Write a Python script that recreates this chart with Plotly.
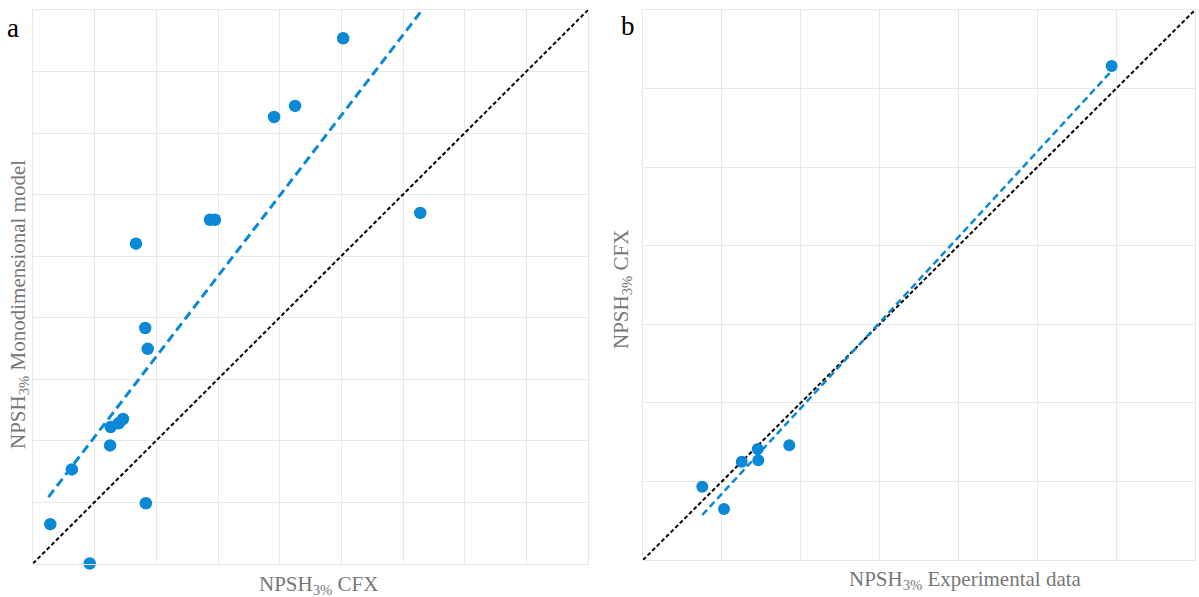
import plotly.graph_objects as go

# Panel a: CFX vs monodimensional model
a_cfx = [0.28, 0.63, 0.92, 1.25, 1.26, 1.39, 1.46, 1.67, 1.82, 1.83, 1.86, 2.87, 2.95, 3.91, 4.25, 5.03, 6.28]
a_mono = [0.64, 1.53, 0.00, 1.92, 2.22, 2.28, 2.35, 5.20, 3.83, 0.98, 3.49, 5.59, 5.59, 7.26, 7.44, 8.54, 5.70]
a_trend_x = [0.25, 6.28]
a_trend_y = [1.08, 8.96]
a_diag = [0, 9]

# Panel b: experimental vs CFX
b_exp = [0.752, 1.027, 1.252, 1.455, 1.462, 1.855, 5.943]
b_cfx = [0.933, 0.649, 1.251, 1.413, 1.269, 1.460, 6.287]
b_trend_x = [0.752, 5.92]
b_trend_y = [0.573, 6.20]
b_diag = [0, 7]

W, H = 1199, 597
BLUE = "#0b88d6"
GRID = "#e8e8e8"
TXT = "#777777"
SERIF = "Liberation Serif, Times New Roman, serif"
TS = 21

def px_x(p):
    return p / W

def px_y(p):
    return 1 - p / H

fig = go.Figure()

# panel a
fig.add_trace(go.Scatter(x=a_diag, y=a_diag, mode="lines", line=dict(color="black", width=2, dash="4px,2.5px"),
                         xaxis="x", yaxis="y", showlegend=False, hoverinfo="skip"))
fig.add_trace(go.Scatter(x=a_trend_x, y=a_trend_y, mode="lines", line=dict(color=BLUE, width=3, dash="9px,5px"),
                         xaxis="x", yaxis="y", showlegend=False, hoverinfo="skip"))
fig.add_trace(go.Scatter(x=a_cfx, y=a_mono, mode="markers", marker=dict(color=BLUE, size=12.5), cliponaxis=False,
                         xaxis="x", yaxis="y", showlegend=False))

# panel b
fig.add_trace(go.Scatter(x=b_diag, y=b_diag, mode="lines", line=dict(color="black", width=2, dash="4px,2.5px"),
                         xaxis="x2", yaxis="y2", showlegend=False, hoverinfo="skip"))
fig.add_trace(go.Scatter(x=b_trend_x, y=b_trend_y, mode="lines", line=dict(color=BLUE, width=2.5, dash="7px,4px"),
                         xaxis="x2", yaxis="y2", showlegend=False, hoverinfo="skip"))
fig.add_trace(go.Scatter(x=b_exp, y=b_cfx, mode="markers", marker=dict(color=BLUE, size=12), cliponaxis=False,
                         xaxis="x2", yaxis="y2", showlegend=False))

ax_common = dict(showticklabels=False, ticks="", showgrid=True, gridcolor=GRID, gridwidth=1.3,
                 zeroline=False, showline=True, linecolor=GRID, linewidth=1.3, mirror=True, dtick=1)

fig.update_layout(
    width=W, height=H,
    margin=dict(l=0, r=0, t=0, b=0),
    paper_bgcolor="white", plot_bgcolor="white",
    xaxis=dict(domain=[px_x(33), px_x(588)], range=[0, 9], anchor="y", **ax_common),
    yaxis=dict(domain=[px_y(563.5), px_y(10)], range=[0, 9], anchor="x", **ax_common),
    xaxis2=dict(domain=[px_x(643), px_x(1195)], range=[0, 7], anchor="y2", **ax_common),
    yaxis2=dict(domain=[px_y(560), px_y(10)], range=[0, 7], anchor="x2", **ax_common),
    annotations=[
        dict(text="NPSH<sub>3%</sub> CFX", x=px_x(318), y=px_y(585), xref="paper", yref="paper",
             showarrow=False, xanchor="center", yanchor="middle", font=dict(family=SERIF, size=TS, color=TXT)),
        dict(text="NPSH<sub>3%</sub> Monodimensional model", x=px_x(19), y=px_y(305), xref="paper", yref="paper",
             showarrow=False, textangle=-90, xanchor="center", yanchor="middle", font=dict(family=SERIF, size=TS, color=TXT)),
        dict(text="NPSH<sub>3%</sub> Experimental data", x=px_x(965), y=px_y(580), xref="paper", yref="paper",
             showarrow=False, xanchor="center", yanchor="middle", font=dict(family=SERIF, size=TS, color=TXT)),
        dict(text="NPSH<sub>3%</sub> CFX", x=px_x(622), y=px_y(290), xref="paper", yref="paper",
             showarrow=False, textangle=-90, xanchor="center", yanchor="middle", font=dict(family=SERIF, size=TS, color=TXT)),
        dict(text="a", x=px_x(13), y=px_y(28), xref="paper", yref="paper",
             showarrow=False, xanchor="center", yanchor="middle", font=dict(family=SERIF, size=27, color="black")),
        dict(text="b", x=px_x(628), y=px_y(26), xref="paper", yref="paper",
             showarrow=False, xanchor="center", yanchor="middle", font=dict(family=SERIF, size=27, color="black")),
    ],
)

fig.write_html("out.html")
